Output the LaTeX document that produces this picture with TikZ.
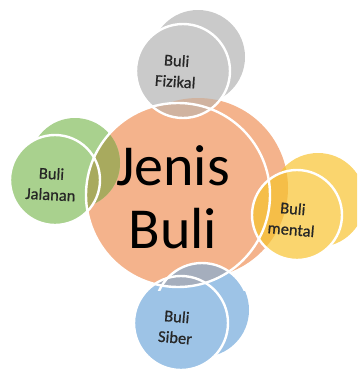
\documentclass[tikz,border=0pt]{standalone}
\usepackage{fontspec}
\setmainfont{Carlito}
\newfontfamily\lblfont[FakeBold=0.7]{Carlito}
\definecolor{corange}{HTML}{F4B38C}
\definecolor{cgrey}{HTML}{CACACA}
\definecolor{cgreen}{HTML}{A9D18E}
\definecolor{cyellow}{HTML}{FAD56E}
\definecolor{cblue}{HTML}{9DC3E6}
\definecolor{ovgrey}{HTML}{D0B3A0}
\definecolor{ovgreen}{HTML}{A8AA5E}
\definecolor{ovyellow}{HTML}{F5BE48}
\definecolor{ovyellowd}{HTML}{F0B030}
\definecolor{ovblue}{HTML}{A5AEBD}
\begin{document}
\begin{tikzpicture}[x=1pt,y=-1pt,
  wl/.style={draw=white, line width=2.4pt},
  lbl/.style={align=center, text=black!85, font=\lblfont\fontsize{16.5}{21}\selectfont, inner sep=0pt},
  big/.style={align=center, text=black, font=\fontsize{58}{63}\selectfont, inner sep=0pt}]
\useasboundingbox (0,0) rectangle (357,370);
\clip (0,0) rectangle (357,370);
% centres
\coordinate (cf) at (178,195); \coordinate (cb) at (198,188);
\coordinate (ff) at (183,71);  \coordinate (fb) at (198,57);
\coordinate (gf) at (55,180);  \coordinate (gb) at (75,163);
\coordinate (mf) at (297,215); \coordinate (mb) at (318,200);
\coordinate (sf) at (181,323); \coordinate (sb) at (202,310);
% fills
\fill[corange] (cf) circle[radius=92pt] (cb) circle[radius=90pt];
\fill[cgrey] (ff) circle[radius=47pt] (fb) circle[radius=47pt];
\fill[cgreen] (gf) circle[radius=45pt] (gb) circle[radius=45pt];
\fill[cyellow] (mf) circle[radius=45pt] (mb) circle[radius=47pt];
\fill[cblue] (sf) circle[radius=47pt] (sb) circle[radius=47pt];
% overlaps with the centre
\begin{scope}
  \clip (cf) circle[radius=92pt] (cb) circle[radius=90pt];
  \fill[ovgrey] (ff) circle[radius=47pt] (fb) circle[radius=47pt];
  \fill[ovgreen] (gf) circle[radius=45pt] (gb) circle[radius=45pt];
  \fill[ovyellow] (mf) circle[radius=45pt] (mb) circle[radius=47pt];
  \fill[ovblue] (sf) circle[radius=47pt] (sb) circle[radius=47pt];
\end{scope}
\begin{scope}
  \clip (cf) circle[radius=92pt];
  \clip (mf) circle[radius=45pt];
  \fill[ovyellowd] (mb) circle[radius=47pt];
\end{scope}
% white outlines
\draw[wl] (cf) circle[radius=92pt];
\draw[wl] (ff) circle[radius=47pt];
\draw[wl] (gf) circle[radius=45pt];
\draw[wl] (mf) circle[radius=45pt];
\draw[wl] (sf) circle[radius=47pt];
\begin{scope}
  \clip (0,255) rectangle (260,290);
  \draw[wl] (sb) circle[radius=47pt];
\end{scope}
% texts
\node[big] (tc) at (173,197) {Jenis\\Buli};
\node[lbl, rotate=-4] (tf) at (176,71) {Buli\\Fizikal};
\node[lbl, rotate=-3] (tg) at (51,184) {Buli\\Jalanan};
\node[lbl, rotate=-5] (tm) at (292,219) {Buli\\mental};
\node[lbl, rotate=-5] (ts) at (176,327) {Buli\\Siber};
\end{tikzpicture}
\end{document}
